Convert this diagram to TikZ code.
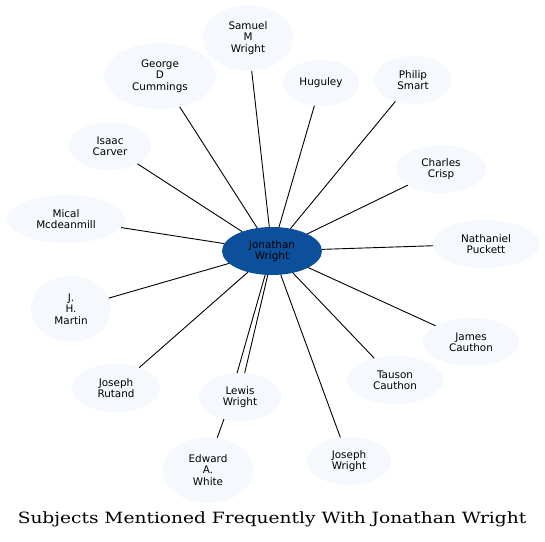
\documentclass[tikz,border=0pt]{standalone}
\usepackage{fontspec}
\setmainfont{DejaVu Serif}
\setsansfont{DejaVu Sans}
\usepackage{tikz}
\usetikzlibrary{shapes.geometric}

\definecolor{hub}{RGB}{12,79,155}
\definecolor{leaf}{RGB}{245,248,253}

\begin{document}
\begin{tikzpicture}[x=1pt,y=-1pt,
  person/.style={ellipse,fill=leaf,inner sep=0pt,outer sep=0pt,align=center,
    font=\sffamily\fontsize{10.4}{11.4}\selectfont},
  link/.style={line width=0.9pt}]
\useasboundingbox (0,0) rectangle (545,541);
\node[person,fill=hub,minimum width=100,minimum height=48] (n0) at (272,251) {Jonathan\\Wright};
\node[person,minimum width=90,minimum height=66] (n1) at (248,38) {Samuel\\M\\Wright};
\node[person,minimum width=112,minimum height=66] (n2) at (160,76) {George\\D\\Cummings};
\node[person,minimum width=76,minimum height=46] (n3) at (321,83) {Huguley};
\node[person,minimum width=78,minimum height=48] (n4) at (413,80) {Philip\\Smart};
\node[person,minimum width=82,minimum height=48] (n5) at (110,146) {Isaac\\Carver};
\node[person,minimum width=90,minimum height=48] (n6) at (441,169) {Charles\\Crisp};
\node[person,minimum width=118,minimum height=48] (n7) at (66,219) {Mical\\Mcdeanmill};
\node[person,minimum width=106,minimum height=48] (n8) at (486,244) {Nathaniel\\Puckett};
\node[person,minimum width=80,minimum height=66] (n9) at (71,309) {J.\\H.\\Martin};
\node[person,minimum width=96,minimum height=48] (n10) at (471,342) {James\\Cauthon};
\node[person,minimum width=88,minimum height=48] (n11) at (116,388) {Joseph\\Rutand};
\node[person,minimum width=96,minimum height=48] (n12) at (395,380) {Tauson\\Cauthon};
\node[person,minimum width=82,minimum height=48] (n13) at (240,397) {Lewis\\Wright};
\node[person,minimum width=90,minimum height=66] (n14) at (208,470) {Edward\\A.\\White};
\node[person,minimum width=84,minimum height=48] (n15) at (349,461) {Joseph\\Wright};
\foreach \k in {1,...,12,15}
  \draw[link] (n0) -- (n\k);
\draw[link] (n0.254) -- (n13.97);
\draw[link] (n0.260) -- (n13.79);
\draw[link] (n13.234) -- (n14.74);
\node[font=\fontsize{15.5}{18}\selectfont\addfontfeature{FakeStretch=1.2}] (title) at (272,519) {Subjects Mentioned Frequently With Jonathan Wright};
\end{tikzpicture}
\end{document}
